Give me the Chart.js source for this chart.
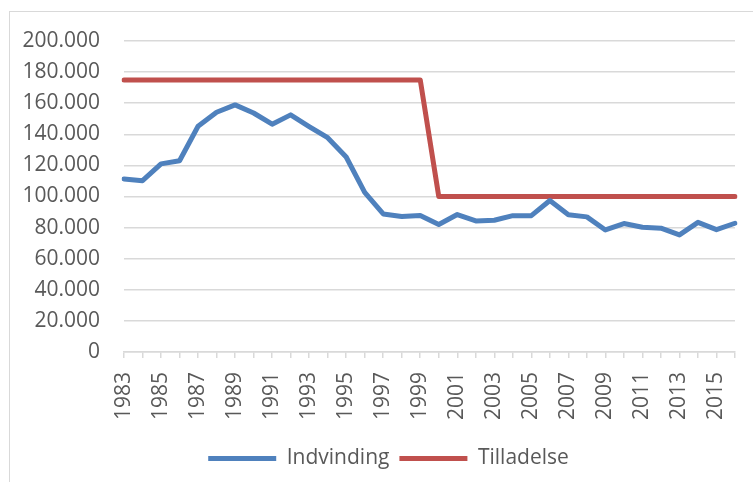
<!DOCTYPE html>
<html>
<head>
<meta charset="utf-8">
<script src="https://cdn.jsdelivr.net/npm/chart.js@4"></script>
<style>
  html, body { margin: 0; padding: 0; background: #fff; overflow: hidden; }
  #wrap { position: relative; width: 753px; height: 482px; overflow: hidden; }
  #frame { position: absolute; left: 9px; top: 11px; width: 800px; height: 500px;
           border: 1.5px solid #d9d9d9; box-sizing: border-box; }
  #chart { position: absolute; left: 0; top: 0; }
</style>
</head>
<body>
<div id="wrap">
  <div id="frame"></div>
  <canvas id="chart" width="753" height="482"></canvas>
</div>
<script>
// aar 1983-2016
const years = [
  "1983", "1984", "1985", "1986", "1987", "1988", "1989", "1990", "1991", "1992",
  "1993", "1994", "1995", "1996", "1997", "1998", "1999", "2000", "2001", "2002",
  "2003", "2004", "2005", "2006", "2007", "2008", "2009", "2010", "2011", "2012",
  "2013", "2014", "2015", "2016"
];

const indvinding = [
  111300, 110200, 121000, 123000, 145200, 154200, 158900, 153700, 146500, 152500,
  145000, 137800, 125400, 102600, 88800, 87200, 87800, 82000, 88400, 84300,
  84700, 87700, 87700, 97400, 88200, 86900, 78500, 82600, 80200, 79600,
  75300, 83400, 78700, 82800
];

const tilladelse = [
  175000, 175000, 175000, 175000, 175000, 175000, 175000, 175000, 175000, 175000,
  175000, 175000, 175000, 175000, 175000, 175000, 175000, 100000, 100000, 100000,
  100000, 100000, 100000, 100000, 100000, 100000, 100000, 100000, 100000, 100000,
  100000, 100000, 100000, 100000
];

const COLORS = {
  blue: "#4f81bd",
  red: "#c0504d",
  grid: "#d9d9d9",
  text: "#595959"
};

// dansk tusindtalsseparator
function fmt(v) {
  return String(v).replace(/\B(?=(\d{3})+(?!\d))/g, ".");
}

// y-labels maa gerne staa til venstre for aksens boks
const unclipY = {
  id: "unclipY",
  afterLayout(chart) {
    chart.scales.y.left = 0;
  }
};

Chart.defaults.font.family = "'Open Sans', sans-serif";
Chart.defaults.font.size = 21;
Chart.defaults.color = COLORS.text;

new Chart(document.getElementById("chart"), {
  type: "line",
  data: {
    labels: years,
    datasets: [
      {
        label: "Indvinding",
        data: indvinding,
        borderColor: COLORS.blue,
        backgroundColor: COLORS.blue,
        borderWidth: 5,
        pointRadius: 0,
        borderJoinStyle: "round",
        borderCapStyle: "round",
        tension: 0
      },
      {
        label: "Tilladelse",
        data: tilladelse,
        borderColor: COLORS.red,
        backgroundColor: COLORS.red,
        borderWidth: 5,
        pointRadius: 0,
        borderJoinStyle: "round",
        borderCapStyle: "round",
        tension: 0
      }
    ]
  },
  plugins: [unclipY],
  options: {
    responsive: false,
    devicePixelRatio: 1,
    animation: false,
    layout: { padding: { left: 42, right: 18, top: 41, bottom: 3 } },
    plugins: {
      tooltip: { enabled: false },
      legend: {
        position: "bottom",
        labels: {
          boxWidth: 68,
          boxHeight: 5,
          padding: 10,
          color: COLORS.text,
          generateLabels: (chart) =>
            Chart.defaults.plugins.legend.labels.generateLabels(chart)
              .map((l) => ({ ...l, lineWidth: 0 }))
        }
      }
    },
    scales: {
      x: {
        offset: false,
        afterFit: (scale) => {
          scale.height = 86;
          scale.paddingLeft = 0;
          scale.paddingRight = 0;
        },
        grid: {
          display: true,
          drawOnChartArea: false,
          drawTicks: true,
          tickLength: 6,
          color: COLORS.grid,
          lineWidth: 1.5
        },
        border: { display: true, color: COLORS.grid, width: 1.5 },
        ticks: {
          autoSkip: false,
          maxRotation: 90,
          minRotation: 90,
          padding: 14,
          callback: function (val, i) {
            return i % 2 === 0 ? this.getLabelForValue(val) : "";
          }
        }
      },
      y: {
        min: 0,
        max: 200000,
        afterFit: (scale) => { scale.width = 82; },
        grid: { color: COLORS.grid, lineWidth: 1.5, drawTicks: false },
        border: { display: false },
        ticks: {
          stepSize: 20000,
          padding: 24,
          callback: (v) => fmt(v)
        }
      }
    }
  }
});
</script>
</body>
</html>
